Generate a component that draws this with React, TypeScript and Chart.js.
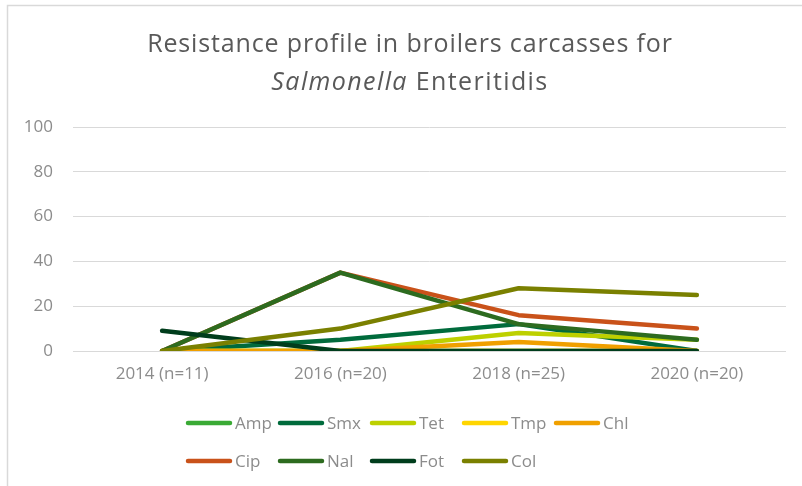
import React, { useEffect, useRef } from "react";
import { Chart, registerables } from "chart.js";

Chart.register(...registerables);

const categories = ["2014 (n=11)", "2016 (n=20)", "2018 (n=25)", "2020 (n=20)"];
const seriesNames = ["Amp", "Smx", "Tet", "Tmp", "Chl", "Cip", "Nal", "Fot", "Col"];
const amp = [0, 0, 0, 0];
const smx = [0, 5, 12, 0];
const tet = [0, 0, 8, 5];
const tmp = [0, 0, 0, 0];
const chl = [0, 0, 4, 0];
const cip = [0, 35, 16, 10];
const nal = [0, 35, 12, 5];
const fot = [9, 0, 0, 0];
const col = [0, 10, 28, 25];
const seriesValues = [amp, smx, tet, tmp, chl, cip, nal, fot, col];
const seriesColors = ["#3AAA35", "#006B3C", "#BDD000", "#FFD500", "#F0A000", "#C9521A", "#2D6B1F", "#003D1C", "#7A8000"];
const yTicks = [0, 20, 40, 60, 80, 100];

const titleLine1 = "Resistance profile in broilers carcasses for";
const titleItalic = "Salmonella";
const titleRest = " Enteritidis";

const FONT = "'Open Sans', 'Noto Sans', sans-serif";
const TEXT_GRAY = "#8c8c8c";

const decorPlugin = {
  id: "decor",
  beforeDraw(chart: any) {
    const ctx = chart.ctx;
    ctx.save();
    ctx.fillStyle = "#ffffff";
    ctx.fillRect(0, 0, chart.width, chart.height);
    ctx.strokeStyle = "#d9d9d9";
    ctx.lineWidth = 1.5;
    ctx.strokeRect(7.5, 5.5, 1000, 1000);
    ctx.restore();
  },
  afterDraw(chart: any) {
    const ctx = chart.ctx;
    ctx.save();
    // title
    const cx = 410;
    ctx.fillStyle = "#595959";
    ctx.textBaseline = "alphabetic";
    ctx.textAlign = "left";
    const reg = `25px ${FONT}`;
    const ita = `italic 25px ${FONT}`;
    ctx.letterSpacing = "0.85px";
    ctx.font = reg;
    const w1 = ctx.measureText(titleLine1).width;
    ctx.fillText(titleLine1, cx - w1 / 2, 51.5);
    ctx.letterSpacing = "1.4px";
    ctx.font = ita;
    const wi = ctx.measureText(titleItalic).width;
    ctx.font = reg;
    const wr = ctx.measureText(titleRest).width;
    const start = cx - (wi + wr) / 2;
    ctx.font = ita;
    ctx.fillText(titleItalic, start, 90);
    ctx.font = reg;
    ctx.fillText(titleRest, start + wi, 90);
    ctx.letterSpacing = "0px";

    // legend
    const perRow = 5;
    ctx.font = `17px ${FONT}`;
    ctx.textBaseline = "middle";
    ctx.lineCap = "round";
    ctx.lineWidth = 4.5;
    seriesNames.forEach((name, i) => {
      const r = Math.floor(i / perRow);
      const c = i % perRow;
      const x0 = 186 + c * 92;
      const y = 423 + r * 38;
      ctx.strokeStyle = seriesColors[i];
      ctx.beginPath();
      ctx.moveTo(x0 + 2, y);
      ctx.lineTo(x0 + 44, y);
      ctx.stroke();
      ctx.fillStyle = TEXT_GRAY;
      ctx.fillText(name, x0 + 49, y + 1);
    });
    ctx.restore();
  },
};

export default function App() {
  const ref = useRef<HTMLCanvasElement | null>(null);
  useEffect(() => {
    if (!ref.current) return;
    const n = seriesNames.length;
    const chart = new Chart(ref.current, {
      type: "line",
      data: {
        labels: categories,
        datasets: seriesNames.map((name, i) => ({
          label: name,
          data: seriesValues[i],
          borderColor: seriesColors[i],
          backgroundColor: seriesColors[i],
          borderWidth: 4.5,
          pointRadius: 0,
          pointHoverRadius: 0,
          borderCapStyle: "round" as const,
          borderJoinStyle: "round" as const,
          tension: 0,
          fill: false,
          order: n - i,
        })),
      },
      options: {
        responsive: false,
        animation: false,
        devicePixelRatio: 1,
        layout: { padding: { top: 127, right: 16, bottom: 86, left: 0 } },
        plugins: {
          legend: { display: false },
          title: { display: false },
          tooltip: { enabled: false },
        },
        scales: {
          x: {
            offset: true,
            grid: { display: false, drawTicks: false },
            border: { display: false },
            ticks: {
              color: TEXT_GRAY,
              font: { family: FONT, size: 17 },
              padding: 13,
              maxRotation: 0,
            },
            afterFit: (s: any) => {
              s.height = 49;
            },
          },
          y: {
            min: 0,
            max: 100,
            afterBuildTicks: (s: any) => {
              s.ticks = yTicks.map((v) => ({ value: v }));
            },
            grid: { color: "#d9d9d9", lineWidth: 1, drawTicks: false },
            border: { display: false },
            ticks: {
              color: TEXT_GRAY,
              font: { family: FONT, size: 17 },
              padding: 20,
            },
            afterFit: (s: any) => {
              s.width = 73;
            },
          },
        },
      },
      plugins: [decorPlugin],
    });
    return () => chart.destroy();
  }, []);
  return (
    <div style={{ position: "fixed", left: 0, top: 0, width: 802, height: 486, background: "#fff" }}>
      <canvas ref={ref} width={802} height={486} style={{ width: 802, height: 486, display: "block" }} />
    </div>
  );
}
